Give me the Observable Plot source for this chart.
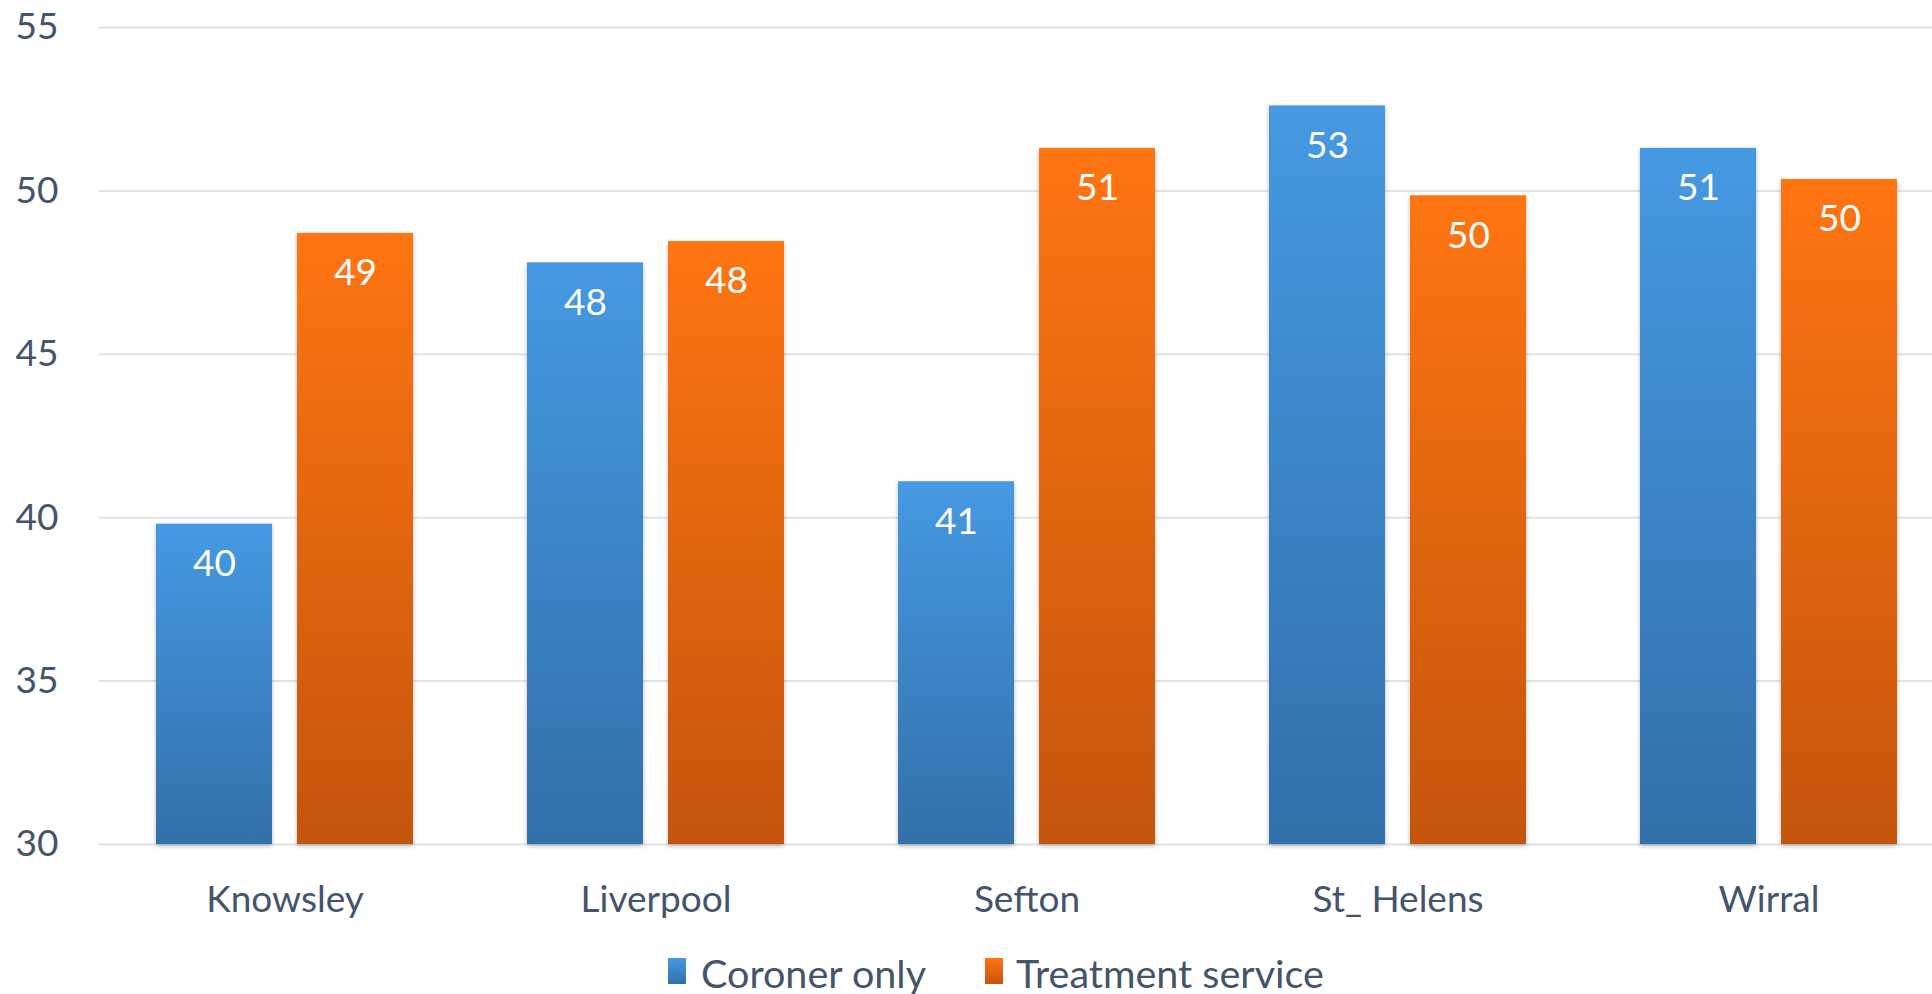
<!DOCTYPE html>
<html><head><meta charset="utf-8">
<script src="https://cdn.jsdelivr.net/npm/d3@7"></script>
<script src="https://cdn.jsdelivr.net/npm/@observablehq/plot@0.6"></script>
<style>
body{margin:0;background:#fff;overflow:hidden;width:1932px;height:994px;position:relative;font-family:Lato,sans-serif;}
#chart{position:absolute;left:0;top:0;}
#chart svg{max-width:none !important;}
#legend{position:absolute;left:0;top:955px;width:1932px;height:39px;font-size:39.5px;line-height:39px;color:#44546A;white-space:nowrap;}
.sw{position:absolute;top:3px;width:18px;height:26px;}
.lab{position:absolute;top:-2px;}
svg g[aria-label="bar"] rect{filter:drop-shadow(0 2px 2px rgba(0,0,0,0.28));}
</style></head><body><div id="chart"></div><div id="legend"></div>
<script>
const categories = ["Knowsley", "Liverpool", "Sefton", "St_ Helens", "Wirral"];
const series = ["Coroner only", "Treatment service"];
const coronerOnly = [39.8, 47.8, 41.1, 52.6, 51.3];
const treatmentService = [48.7, 48.45, 51.3, 49.85, 50.35];
const yTicks = [30, 35, 40, 45, 50, 55];
const seriesColors = [["#4699E2", "#3270A9"], ["#FF7512", "#C4550D"]];

const blueData = categories.map((c, i) => ({category: c, series: series[0], value: coronerOnly[i]}));
const orangeData = categories.map((c, i) => ({category: c, series: series[1], value: treatmentService[i]}));

const chart = Plot.plot({
  width: 1954, height: 935,
  marginLeft: 99, marginRight: 0, marginTop: 27, marginBottom: 91,
  style: {fontFamily: "Lato, sans-serif", fontSize: "37px", color: "#44546A", background: "white", overflow: "visible", maxWidth: "none"},
  x: {domain: categories, paddingInner: 0.307, paddingOuter: 0.1535, label: null, tickSize: 0, tickPadding: 41},
  y: {domain: [30, 55], ticks: yTicks, tickSize: 0, tickPadding: 41, label: null},
  marks: [
    Plot.ruleY(yTicks, {stroke: "#dfe3e9", strokeWidth: 2}),
    Plot.barY(blueData, {x: "category", y1: 30, y2: "value", insetRight: 141, fill: "url(#gBlue)"}),
    Plot.barY(orangeData, {x: "category", y1: 30, y2: "value", insetLeft: 141, fill: "url(#gOrange)"}),
    Plot.text(blueData, {x: "category", y: "value", text: d => String(Math.round(d.value)), dx: -70.5, dy: 40, fill: "white", fontSize: 37, lineAnchor: "middle"}),
    Plot.text(orangeData, {x: "category", y: "value", text: d => String(Math.round(d.value)), dx: 70.5, dy: 40, fill: "white", fontSize: 37, lineAnchor: "middle"})
  ]
});

const ns = "http://www.w3.org/2000/svg";
const defs = document.createElementNS(ns, "defs");
defs.innerHTML =
  `<linearGradient id="gBlue" x1="0" y1="0" x2="0" y2="1"><stop offset="0" stop-color="${seriesColors[0][0]}"/><stop offset="1" stop-color="${seriesColors[0][1]}"/></linearGradient>` +
  `<linearGradient id="gOrange" x1="0" y1="0" x2="0" y2="1"><stop offset="0" stop-color="${seriesColors[1][0]}"/><stop offset="1" stop-color="${seriesColors[1][1]}"/></linearGradient>`;
chart.insertBefore(defs, chart.firstChild);
document.getElementById("chart").appendChild(chart);

const legend = document.getElementById("legend");
const legendX = [[668, 701], [985, 1016]];
series.forEach((s, i) => {
  const sw = document.createElement("span");
  sw.className = "sw";
  sw.style.left = legendX[i][0] + "px";
  sw.style.background = `linear-gradient(${seriesColors[i][0]}, ${seriesColors[i][1]})`;
  const label = document.createElement("span");
  label.className = "lab";
  label.style.left = legendX[i][1] + "px";
  label.textContent = s;
  legend.appendChild(sw);
  legend.appendChild(label);
});
</script>
</body></html>
